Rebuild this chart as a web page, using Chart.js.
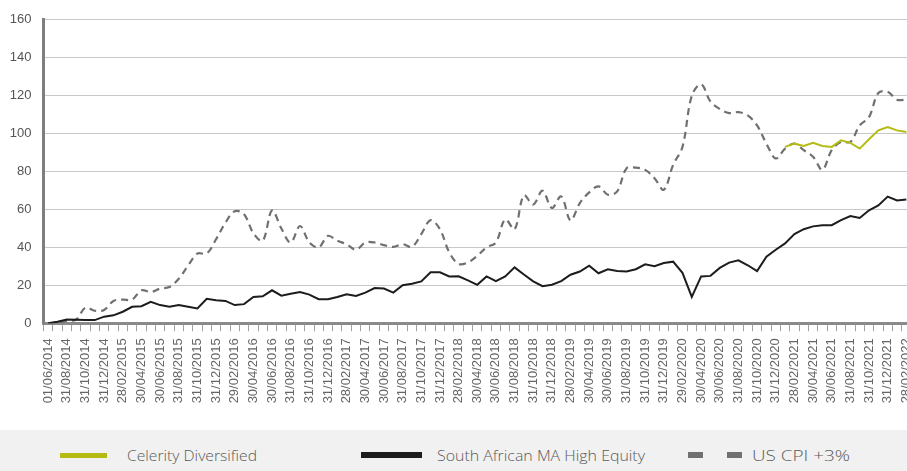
<!DOCTYPE html>
<html>
<head>
<meta charset="utf-8">
<script src="https://cdn.jsdelivr.net/npm/chart.js@4/dist/chart.umd.min.js"></script>
<style>
  html, body { margin: 0; padding: 0; width: 907px; height: 471px; overflow: hidden; background: #ffffff; }
  #wrap { position: absolute; left: 0; top: 0; width: 911px; height: 430px; }
  #legend { position: absolute; left: 0; top: 430px; width: 907px; height: 41px; background: #f1f1f1;
            font-family: "Open Sans", "Liberation Sans", sans-serif; font-weight: 300;
            font-size: 15px; color: #5a5a5a; }
  .sw { position: absolute; }
  .lt { position: absolute; top: 16px; white-space: nowrap; line-height: 18px; transform-origin: 0 50%; display: inline-block; }
</style>
</head>
<body>
<div id="wrap"><canvas id="c" width="911" height="430"></canvas></div>
<div id="legend">
  <div class="sw" style="left:60px; top:23px; width:47px; height:5px; background:#b4bc14;"></div>
  <div class="lt" data-w="130" style="left:127px;">Celerity Diversified</div>
  <div class="sw" style="left:361px; top:22px; width:61px; height:6px; background:#1c1c1c;"></div>
  <div class="lt" data-w="208" style="left:437px;">South African MA High Equity</div>
  <div class="sw" style="left:688px; top:22px; width:15px; height:6px; background:#707070;"></div>
  <div class="sw" style="left:727px; top:22px; width:15px; height:6px; background:#707070;"></div>
  <div class="lt" data-w="98" style="left:752px;">US CPI +3%</div>
</div>
<script>
const dates = [
  "01/06/2014","31/07/2014","31/08/2014","30/09/2014","31/10/2014","30/11/2014","31/12/2014",
  "31/01/2015","28/02/2015","31/03/2015","30/04/2015","31/05/2015","30/06/2015","31/07/2015","31/08/2015","30/09/2015","31/10/2015","30/11/2015","31/12/2015",
  "31/01/2016","29/02/2016","31/03/2016","30/04/2016","31/05/2016","30/06/2016","31/07/2016","31/08/2016","30/09/2016","31/10/2016","30/11/2016","31/12/2016",
  "31/01/2017","28/02/2017","31/03/2017","30/04/2017","31/05/2017","30/06/2017","31/07/2017","31/08/2017","30/09/2017","31/10/2017","30/11/2017","31/12/2017",
  "31/01/2018","28/02/2018","31/03/2018","30/04/2018","31/05/2018","30/06/2018","31/07/2018","31/08/2018","30/09/2018","31/10/2018","30/11/2018","31/12/2018",
  "31/01/2019","28/02/2019","31/03/2019","30/04/2019","31/05/2019","30/06/2019","31/07/2019","31/08/2019","30/09/2019","31/10/2019","30/11/2019","31/12/2019",
  "31/01/2020","29/02/2020","31/03/2020","30/04/2020","31/05/2020","30/06/2020","31/07/2020","31/08/2020","30/09/2020","31/10/2020","30/11/2020","31/12/2020",
  "31/01/2021","28/02/2021","31/03/2021","30/04/2021","31/05/2021","30/06/2021","31/07/2021","31/08/2021","30/09/2021","31/10/2021","30/11/2021","31/12/2021",
  "31/01/2022","28/02/2022"
];

const celerity = [
  null,null,null,null,null,null,null,null,null,null,
  null,null,null,null,null,null,null,null,null,null,
  null,null,null,null,null,null,null,null,null,null,
  null,null,null,null,null,null,null,null,null,null,
  null,null,null,null,null,null,null,null,null,null,
  null,null,null,null,null,null,null,null,null,null,
  null,null,null,null,null,null,null,null,null,null,
  null,null,null,null,null,null,null,null,null,
  93.0, 94.7, 93.5, 95.1, 93.5, 93.0, 96.5, 95.1, 92.1, 97.0,
  101.7, 103.5, 101.7, 100.8
];

const saHighEquity = [
  0, 0.8, 2.0, 1.9, 1.7, 1.7, 3.5, 4.2, 6.1, 8.7,
  9.0, 11.3, 9.6, 8.7, 9.7, 8.7, 7.8, 12.9, 12.2, 11.8,
  9.6, 10.1, 13.9, 14.2, 17.4, 14.6, 15.6, 16.5, 15.1, 12.7,
  12.7, 13.9, 15.3, 14.4, 16.2, 18.6, 18.3, 16.2, 20.1, 20.9,
  22.1, 26.9, 26.9, 24.7, 24.8, 22.6, 20.3, 24.7, 22.2, 24.7,
  29.5, 25.7, 22.1, 19.6, 20.3, 22.2, 25.6, 27.3, 30.4, 26.4,
  28.5, 27.6, 27.3, 28.5, 31.1, 30.1, 31.8, 32.5, 26.6, 13.9,
  24.7, 25.0, 29.2, 32.0, 33.2, 30.6, 27.5, 35.1, 38.8, 42.1,
  47.0, 49.6, 51.1, 51.7, 51.7, 54.4, 56.5, 55.5, 59.6, 62.1,
  66.8, 64.8, 65.3
];

const usCpiPlus3 = [
  0, 0.4, 1.2, 2.0, 8.3, 6.6, 7.0, 11.8, 12.5, 12.5,
  17.4, 16.5, 18.3, 19.1, 23.5, 30.4, 36.8, 36.8, 44.3, 53.0,
  59.1, 57.5, 47.5, 43.5, 59.5, 50.0, 42.6, 51.3, 42.6, 40.0,
  46.1, 43.5, 41.7, 38.8, 42.6, 42.6, 41.2, 40.3, 41.7, 40.3,
  47.0, 54.4, 49.6, 37.4, 31.3, 32.1, 35.6, 40.0, 42.6, 54.8,
  49.6, 67.5, 62.6, 69.9, 60.8, 66.9, 54.3, 63.4, 69.0, 72.2,
  67.8, 69.5, 81.7, 82.1, 80.9, 76.5, 70.4, 83.5, 93.0, 120.0,
  126.0, 116.9, 113.0, 110.8, 111.3, 109.6, 104.3, 94.7, 86.9, 92.1,
  94.7, 91.3, 87.8, 80.9, 91.3, 95.6, 95.6, 104.3, 108.7, 121.4,
  122.1, 117.9, 118.0
];

const yTicks = [0, 20, 40, 60, 80, 100, 120, 140, 160];

// squeeze legend texts to the reference widths
document.querySelectorAll('.lt').forEach(function(el) {
  const w = el.getBoundingClientRect().width;
  const target = parseFloat(el.dataset.w);
  if (w > 0) el.style.transform = 'scaleX(' + (target / w) + ')';
});

new Chart(document.getElementById('c'), {
  type: 'line',
  data: {
    labels: dates,
    datasets: [
      { label: 'Celerity Diversified', data: celerity, borderColor: '#b4bc14', borderWidth: 2,
        pointRadius: 0, tension: 0, spanGaps: false },
      { label: 'South African MA High Equity', data: saHighEquity, borderColor: '#1c1c1c', borderWidth: 2,
        pointRadius: 0, tension: 0 },
      { label: 'US CPI +3%', data: usCpiPlus3, borderColor: '#707070', borderWidth: 2.2,
        borderDash: [7, 5], pointRadius: 0, tension: 0.35 }
    ]
  },
  options: {
    responsive: false,
    animation: false,
    devicePixelRatio: 1,
    layout: { padding: { left: 0, top: 16.6, right: 0, bottom: 0 } },
    plugins: { legend: { display: false }, tooltip: { enabled: false } },
    scales: {
      x: {
        offset: true,
        grid: { offset: true, drawOnChartArea: false, drawTicks: true, tickLength: 8, color: '#a0a0a0', lineWidth: 1 },
        border: { display: true, color: '#8a8a8a', width: 3 },
        ticks: {
          autoSkip: false, maxRotation: 90, minRotation: 90, padding: 7,
          color: '#666666', font: { family: 'Liberation Sans', size: 13 },
          callback: function(v, i) { return i % 2 === 0 ? dates[i] : ''; }
        },
        afterFit: function(s) { s.height = 106.7; s.paddingLeft = 0; s.paddingRight = 0; }
      },
      y: {
        min: 0, max: 160,
        afterBuildTicks: function(s) { s.ticks = yTicks.map(v => ({ value: v })); },
        grid: { color: '#c8c8c8', lineWidth: 1, drawTicks: false },
        border: { display: true, color: '#7f7f7f', width: 3 },
        ticks: { padding: 12, color: '#555555', font: { family: 'Liberation Sans', size: 13 } },
        afterFit: function(s) { s.width = 43.5; }
      }
    }
  }
});
</script>
</body>
</html>
